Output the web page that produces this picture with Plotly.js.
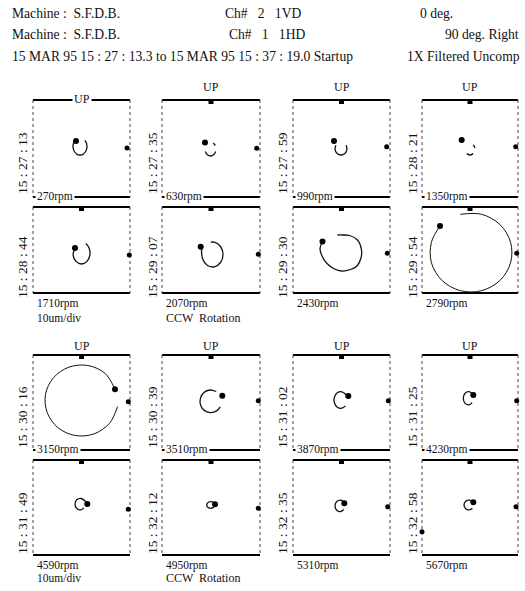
<!DOCTYPE html>
<html><head><meta charset="utf-8">
<script src="https://cdn.plot.ly/plotly-3.0.1.min.js"></script>
<style>html,body{margin:0;padding:0;background:#fff}#chart{width:525px;height:591px}</style>
</head><body><div id="chart"></div>
<script>
// ---------------- data (units ~ um, 10 um/div) ----------------
const rpmLabels = ["270rpm","630rpm","990rpm","1350rpm","1710rpm","2070rpm","2430rpm","2790rpm",
                   "3150rpm","3510rpm","3870rpm","4230rpm","4590rpm","4950rpm","5310rpm","5670rpm"];
const timeLabels = ["15 : 27 : 13","15 : 27 : 35","15 : 27 : 59","15 : 28 : 21",
                    "15 : 28 : 44","15 : 29 : 07","15 : 29 : 30","15 : 29 : 54",
                    "15 : 30 : 16","15 : 30 : 39","15 : 31 : 02","15 : 31 : 25",
                    "15 : 31 : 49","15 : 32 : 12","15 : 32 : 35","15 : 32 : 58"];
const orbitX = [
  [-5.5,-8.1,-8.1,-5.0,-1.5,2.0,5.1,5.1,3.4],
  [-5.7,-3.7,-0.5,2.7,4.7,null,4.3,2.3],
  [-5.7,-6.4,-4.4,-0.5,3.4,5.4,4.7],
  [-3.2,0,3.2,null,4.9,3.5],
  [-6.5,-8.4,-5.5,0,5.5,8.4,7.4,4.3],
  [-9.5,-8.4,-3.8,3.3,9.5,12,9.5,3.3,-0.3],
  [-19,-21.5,-19,-14.5,-7,0,9,15.5,19.5,20,16,8,1,-4],
  [-30,-38.6,-38.6,-28,-9.6,11.6,30,40.6,40.6,30,11.6,-9.6],
  [33.5,23.5,6.3,-12.5,-28,-36,-34.3,-23.5,-6.3,12.5,28,36],
  [5.2,-1.1,-7.1,-10.6,-10.4,-6.4,-0.2,6.0,9.2],
  [5.5,0.4,-4.2,-7.1,-7.1,-4.2,0.4,3.9],
  [3,-0.8,-4.9,-6.7,-4.9,-0.8,2.1],
  [5,-0.6,-4.7,-6.5,-4.7,-0.6,2.3],
  [3.5,-0.2,-3.8,-3.8,-0.2,3.0],
  [2.5,-0.6,-4.7,-6.5,-4.7,-0.6,2.3],
  [3,-0.5,-4.3,-6,-4.3,-0.5,2.3]
];
const orbitY = [
  [7.5,4.9,-0.9,-5.4,-6.5,-5.4,-0.9,4.9,8.0],
  [-2.9,-6.2,-7.5,-6.2,-2.9,null,3.0,5.6],
  [3.3,-1.1,-5.0,-6.5,-5.0,-1.1,3.3],
  [-5.1,-6.5,-5.1,null,0.5,3.7],
  [2,-4.9,-11.4,-14,-11.4,-4.9,2.5,6.5],
  [1.5,-8.8,-15.3,-16.8,-12.5,-4.5,3.5,7.8,7.8],
  [8.5,1.5,-7,-13.5,-19,-21,-19.5,-16,-8,0,10,14.5,15,15],
  [24,7.7,-12.7,-30.4,-40.7,-40.7,-30.4,-12.7,7.7,25.4,35.7,35.7],
  [13.2,29.2,37,35.4,24.8,8.2,-10.1,-25.2,-33,-31.4,-20.8,-4.2],
  [11,12.5,9.9,4.1,-2.7,-8.1,-10.1,-8.1,-4.45],
  [7,10.7,9.7,5.3,-0.3,-4.7,-5.7,-3.4],
  [7.5,10.8,9.3,4.2,-0.9,-2.4,-0.1],
  [5.5,9.0,7.7,3.3,-1.1,-2.4,-0.4],
  [4.5,5.8,4.2,0.85,-0.8,0.4],
  [5.5,7.4,6.1,1.7,-2.7,-4.0,-2.0],
  [5.5,7.4,6.3,2.5,-1.3,-2.4,-0.7]
];
const keyX = [-5.5,-6,-7.5,-8.3,-6.5,-10.3,-19,-30,33.5,11.3,6.8,3.3,5.8,4,2.8,3.3];
const keyY = [7.5,6,7.5,8.5,2,3.3,8.5,24,13.2,6.8,6.5,7.5,3.5,3.2,4.2,5.2];
const probeX = [45.5,45.7,45.2,45.7,47.8,47.3,45.8,46.7,46.8,47.3,46.8,46.7,46.8,47.3,46.2,46];
const probeY = [0.5,0.2,1.8,1.8,-5,-4.3,-3.3,-3.3,0.8,1.8,1.8,1.8,-1.8,-0.8,0.8,0.8];
const extraPanel = 15, extraX = [-48], extraY = [-24.2];

// ---------------- layout geometry (pixels) ----------------
const W = 525, H = 591;
const colPx = [[33,130],[162,260],[293,390],[422,518]];
const rowPx = [[100,197],[207,293],[355,450],[460,555]];
const FONT = "Liberation Serif, Times New Roman, serif";
const px = v => v / W, py = v => 1 - v / H;

const data = [], shapes = [], annotations = [];
const layout = {
  width: W, height: H, margin: {l:0, r:0, t:0, b:0},
  paper_bgcolor: "#fff", plot_bgcolor: "rgba(0,0,0,0)", showlegend: false,
  font: {family: FONT, color: "#111"}
};
function ann(text, x, y, o) {
  annotations.push(Object.assign({text, xref:"paper", yref:"paper", x:px(x), y:py(y),
    showarrow:false, xanchor:"left", yanchor:"middle", font:{family:FONT, size:13.6, color:"#111"}}, o || {}));
}

for (let i = 0; i < 16; i++) {
  const r = Math.floor(i / 4), c = i % 4;
  const [x0, x1] = colPx[c], [y0, y1] = rowPx[r];
  const hw = (x1 - x0) / 2, hh = (y1 - y0) / 2;
  const n = i === 0 ? "" : String(i + 1);
  layout["xaxis" + n] = {domain:[px(x0), px(x1)], range:[-hw, hw], visible:false, anchor:"y" + n, fixedrange:true};
  layout["yaxis" + n] = {domain:[py(y1), py(y0)], range:[-hh, hh], visible:false, anchor:"x" + n, fixedrange:true};
  const ax = {xaxis:"x" + n, yaxis:"y" + n, hoverinfo:"skip", cliponaxis:false};
  const big = Math.max(...orbitX[i].filter(v => v !== null).map(Math.abs)) > 25;
  data.push(Object.assign({type:"scatter", mode:"lines", x:orbitX[i], y:orbitY[i], connectgaps:false,
    line:{color:"#111", width: big ? 1.0 : 1.3, shape:"spline", smoothing:1}}, ax));
  data.push(Object.assign({type:"scatter", mode:"markers", x:[keyX[i]], y:[keyY[i]],
    marker:{color:"#000", size:6}}, ax));
  data.push(Object.assign({type:"scatter", mode:"markers", x:[probeX[i]], y:[probeY[i]],
    marker:{color:"#000", size:5}}, ax));
  if (i !== 0) data.push(Object.assign({type:"scatter", mode:"markers", x:[0], y:[hh - 1.5],
    marker:{color:"#000", size:5, symbol:"square"}}, ax));
  if (i === extraPanel) data.push(Object.assign({type:"scatter", mode:"markers", x:extraX, y:extraY,
    marker:{color:"#000", size:5}}, ax));

  // frame
  const L = {xref:"paper", yref:"paper", type:"line", layer:"below"};
  shapes.push(Object.assign({x0:px(x0), x1:px(x1), y0:py(y0), y1:py(y0), line:{color:"#000", width:1.8}}, L));
  shapes.push(Object.assign({x0:px(x0), x1:px(x1), y0:py(y1), y1:py(y1), line:{color:"#000", width:1.8}}, L));
  shapes.push(Object.assign({x0:px(x0), x1:px(x0), y0:py(y0), y1:py(y1), line:{color:"#444", width:1, dash:"3px,3px"}}, L));
  shapes.push(Object.assign({x0:px(x1), x1:px(x1), y0:py(y0), y1:py(y1), line:{color:"#444", width:1, dash:"3px,3px"}}, L));

  const cx = (x0 + x1) / 2;
  // UP labels
  if (r === 0 || r === 2) {
    const uy = r === 0 ? (c === 0 ? y0 - 1 : 87.5) : 346;
    ann("UP", cx, uy, {xanchor:"center", font:{family:FONT, size:12, color:"#111"},
      bgcolor: (r === 0 && c === 0) ? "#fff" : "rgba(0,0,0,0)", borderpad:1});
  }
  // rpm labels
  const rpmFont = {family:FONT, size:11.5, color:"#111"};
  if (r === 0 || r === 2) {
    ann(rpmLabels[i], x0 + 2, y1, {font:rpmFont, bgcolor:"#fff", borderpad:1});
  } else {
    ann(rpmLabels[i], x0 + 2, r === 1 ? 304 : 565, {font:rpmFont});
    if (c === 0) ann("10um/div", x0 + 2, r === 1 ? 318 : 578, {font:rpmFont});
    if (c === 1) ann("CCW  Rotation", x0 + 2, r === 1 ? 318 : 578, {font:{family:FONT, size:12, color:"#111"}});
  }
  // time labels (vertical)
  const tx = [22, 152, 282, 412][c], ty = [163, 267, 417, 523][r];
  ann(timeLabels[i], tx, ty, {xanchor:"center", textangle:-90, font:{family:FONT, size:13.5, color:"#111"}});
}

// header
ann("Machine :  S.F.D.B.", 10, 13);
ann("Ch#   2   1VD", 223, 13);
ann("0 deg.", 418, 13);
ann("Machine :  S.F.D.B.", 10, 35);
ann("Ch#   1   1HD", 227, 35);
ann("90 deg. Right", 521, 35, {xanchor:"right"});
ann("15 MAR 95 15 : 27 : 13.3 to 15 MAR 95 15 : 37 : 19.0 Startup", 10, 57);
ann("1X Filtered Uncomp", 522, 57, {xanchor:"right"});

layout.shapes = shapes;
layout.annotations = annotations;
Plotly.newPlot("chart", data, layout, {staticPlot:true, displayModeBar:false});
</script></body></html>
